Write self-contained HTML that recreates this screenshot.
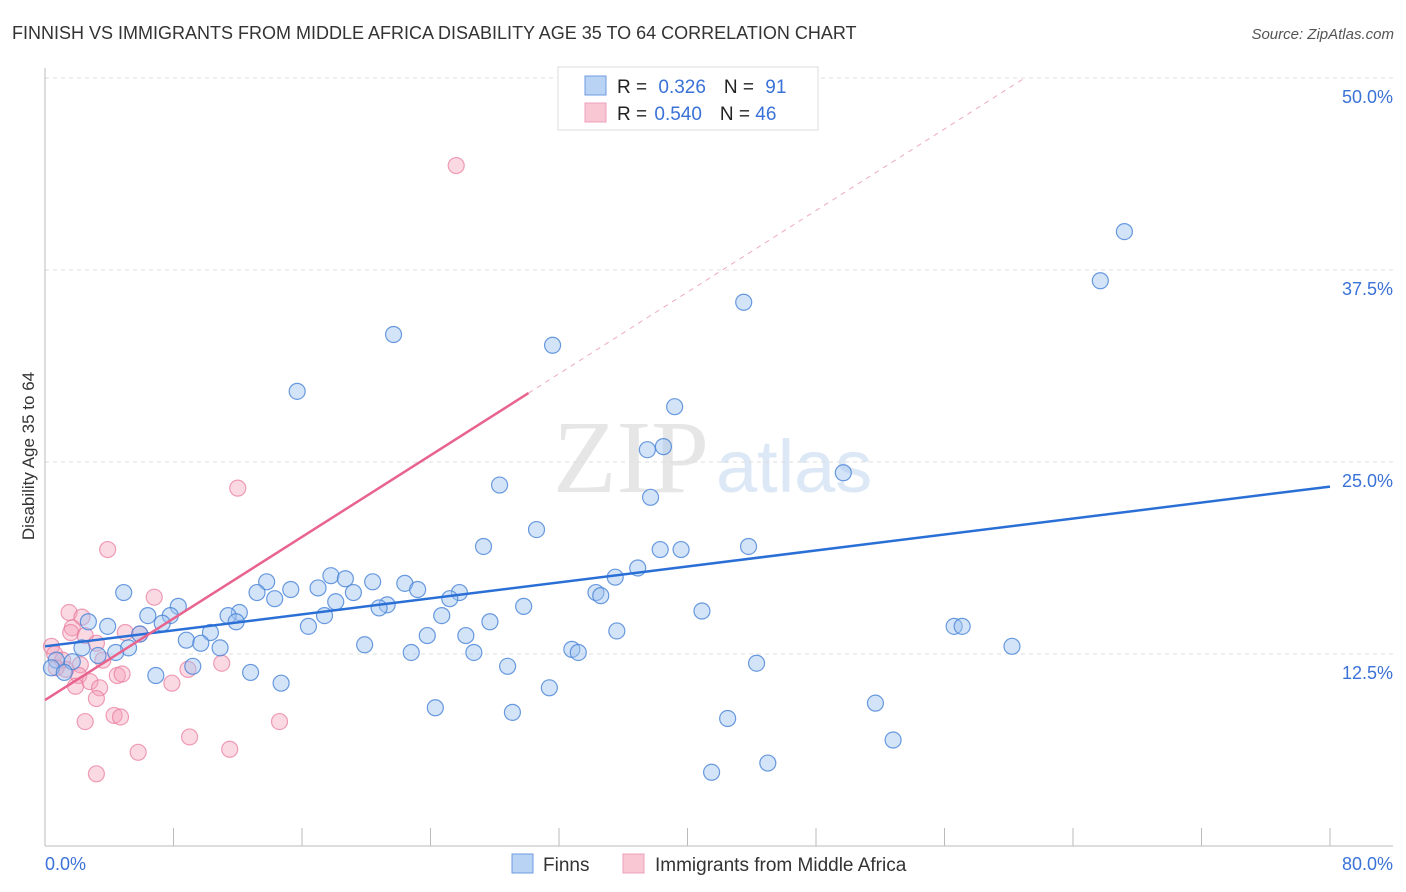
<!DOCTYPE html>
<html><head><meta charset="utf-8"><style>
body{margin:0;background:#fff;font-family:"Liberation Sans",sans-serif;}
svg{display:block}
</style></head><body>
<svg id="chart" width="1406" height="892" xmlns="http://www.w3.org/2000/svg">
<text x="12" y="39" font-size="18" fill="#333">FINNISH VS IMMIGRANTS FROM MIDDLE AFRICA DISABILITY AGE 35 TO 64 CORRELATION CHART</text>
<text x="1394" y="39" font-size="15" fill="#555" font-style="italic" text-anchor="end">Source: ZipAtlas.com</text>
<text x="553" y="492" font-size="104" fill="#e6e6e6" font-family="Liberation Serif,serif">ZIP</text>
<text x="716" y="492" font-size="74" fill="#dce8f6">atlas</text>
<g id="grid"></g>
<line x1="45" y1="68" x2="45" y2="846" stroke="#bbb"/>
<line x1="45" y1="846" x2="1393" y2="846" stroke="#bbb"/>
<text transform="translate(34,456) rotate(-90)" font-size="17" fill="#333" text-anchor="middle">Disability Age 35 to 64</text>
<text x="45" y="870" font-size="18" fill="#3a72d8">0.0%</text>
<text x="1393" y="870" font-size="18" fill="#3a72d8" text-anchor="end">80.0%</text>
<g id="pts"></g>
<g id="lines"></g>
<g>
<rect x="558" y="67" width="260" height="63" fill="#fff" stroke="#ddd"/>
<rect x="585" y="76" width="21" height="19" fill="#b9d3f5" stroke="#6d9be0"/>
<rect x="585" y="103" width="21" height="19" fill="#f9c6d4" stroke="#eda0b8"/>
<text x="617" y="93" font-size="19" fill="#222">R = <tspan fill="#3a72d8" dx="6">0.326</tspan><tspan dx="18">N = </tspan><tspan fill="#3a72d8" dx="6">91</tspan></text>
<text x="617" y="120" font-size="19" fill="#222">R = <tspan fill="#3a72d8" dx="2">0.540</tspan><tspan dx="18">N = </tspan><tspan fill="#3a72d8">46</tspan></text>
</g>
<g>
<rect x="512" y="854" width="21" height="19" fill="#b9d3f5" stroke="#6d9be0"/>
<text x="543" y="871" font-size="19" fill="#333">Finns</text>
<rect x="623" y="854" width="21" height="19" fill="#f9c6d4" stroke="#eda0b8"/>
<text x="655" y="871" font-size="19" fill="#333">Immigrants from Middle Africa</text>
</g>
</svg>
<script>
const yTicks=[12.5,25.0,37.5,50.0];
const xTicks=[8,16,24,32,40,48,56,64,72,80];
const finnsX=[67.2,65.7,43.5,21.7,31.6,15.7,39.2,38.5,37.5,49.7,28.3,37.7,30.6,27.3,38.3,39.6,43.8,36.9,35.5,17.8,18.7,13.8,20.4,22.4,23.2,15.3,17.0,13.2,19.2,25.8,34.3,34.6,4.9,14.3,25.2,18.1,21.3,20.8,29.8,8.3,12.1,11.4,17.4,24.7,6.4,7.8,40.9,27.7,11.9,16.4,2.7,3.9,7.3,56.6,57.1,35.6,23.8,26.2,5.9,10.3,8.8,9.7,10.9,19.9,60.2,5.2,32.8,33.2,22.8,26.7,2.3,3.3,4.4,1.7,0.7,0.4,1.2,28.8,44.3,9.2,12.8,6.9,14.7,31.4,51.7,24.3,29.1,42.5,52.8,45.0,41.5];
const finnsY=[40.0,36.8,35.4,33.3,32.6,29.6,28.6,26.0,25.8,24.3,23.5,22.7,20.6,19.5,19.3,19.3,19.5,18.1,17.5,17.6,17.4,17.2,17.2,17.1,16.7,16.7,16.8,16.5,16.5,16.5,16.5,16.3,16.5,16.1,16.1,15.9,15.7,15.5,15.6,15.6,15.2,15.0,15.0,15.0,15.0,15.0,15.3,14.6,14.6,14.3,14.6,14.3,14.5,14.3,14.3,14.0,13.7,13.7,13.8,13.9,13.4,13.2,12.9,13.1,13.0,12.9,12.8,12.6,12.6,12.6,12.9,12.4,12.6,12.0,12.1,11.6,11.3,11.7,11.9,11.7,11.3,11.1,10.6,10.3,9.3,9.0,8.7,8.3,6.9,5.4,4.8];
const immX=[25.6,12.0,3.9,6.8,1.5,2.3,1.7,1.6,2.5,3.2,5.0,5.9,0.4,0.6,1.1,3.6,11.0,8.9,2.2,0.7,2.1,4.5,4.8,2.8,1.9,3.4,7.9,3.2,4.3,4.7,2.5,14.6,9.0,11.5,5.8,3.2,1.3];
const immY=[44.3,23.3,19.3,16.2,15.2,14.9,14.2,13.9,13.7,13.2,13.9,13.8,13.0,12.5,12.1,12.1,11.9,11.5,11.8,11.6,11.1,11.1,11.2,10.7,10.4,10.3,10.6,9.6,8.5,8.4,8.1,8.1,7.1,6.3,6.1,4.7,11.5];
const finnsTrend=[13.0,23.4];
const immTrend=[9.5,0.664];
const NS='http://www.w3.org/2000/svg';
const sx=v=>45+v/80*1285;
const sy=v=>846-v/12.5*192;
function mk(tag,attrs,parent){const e=document.createElementNS(NS,tag);for(const k in attrs)e.setAttribute(k,attrs[k]);parent.appendChild(e);return e;}
const grid=document.getElementById('grid');
yTicks.forEach(t=>{
 const l=mk('line',{x1:45,x2:1393,y1:sy(t),y2:sy(t),stroke:'#ddd','stroke-dasharray':'4,4'},grid);
 
 
 const tx=mk('text',{x:1393,y:sy(t)+25,'font-size':18,fill:'#3a72d8','text-anchor':'end'},grid);
 tx.textContent=t.toFixed(1)+'%';
 
 
});
xTicks.forEach(t=>{
 const l=mk('line',{x1:sx(t),x2:sx(t),y1:828,y2:846,stroke:'#bbb'},grid);
 
 
});
const pts=document.getElementById('pts');
immX.forEach((x,i)=>{
 const c=mk('circle',{cx:sx(x),cy:sy(immY[i]),r:8,fill:'rgba(244,160,186,0.4)',stroke:'rgba(232,120,155,0.7)','stroke-width':1.2},pts);
 
 
});
finnsX.forEach((x,i)=>{
 const c=mk('circle',{cx:sx(x),cy:sy(finnsY[i]),r:8,fill:'rgba(160,196,240,0.45)',stroke:'rgba(70,130,215,0.8)','stroke-width':1.2},pts);
 
 
});
const lines=document.getElementById('lines');
const bl=mk('line',{x1:sx(0),y1:sy(finnsTrend[0]),x2:sx(80),y2:sy(finnsTrend[1]),stroke:'#2a6fd6','stroke-width':2.5},lines);


const xe=30.1, xd=(50-immTrend[0])/immTrend[1];
const pl=mk('line',{x1:sx(0),y1:sy(immTrend[0]),x2:sx(xe),y2:sy(immTrend[0]+immTrend[1]*xe),stroke:'#e8648f','stroke-width':2.5},lines);


const pd=mk('line',{x1:sx(xe),y1:sy(immTrend[0]+immTrend[1]*xe),x2:sx(xd),y2:sy(50),stroke:'#eeaabd','stroke-width':1,'stroke-dasharray':'5,5'},lines);


</script>
</body></html>
